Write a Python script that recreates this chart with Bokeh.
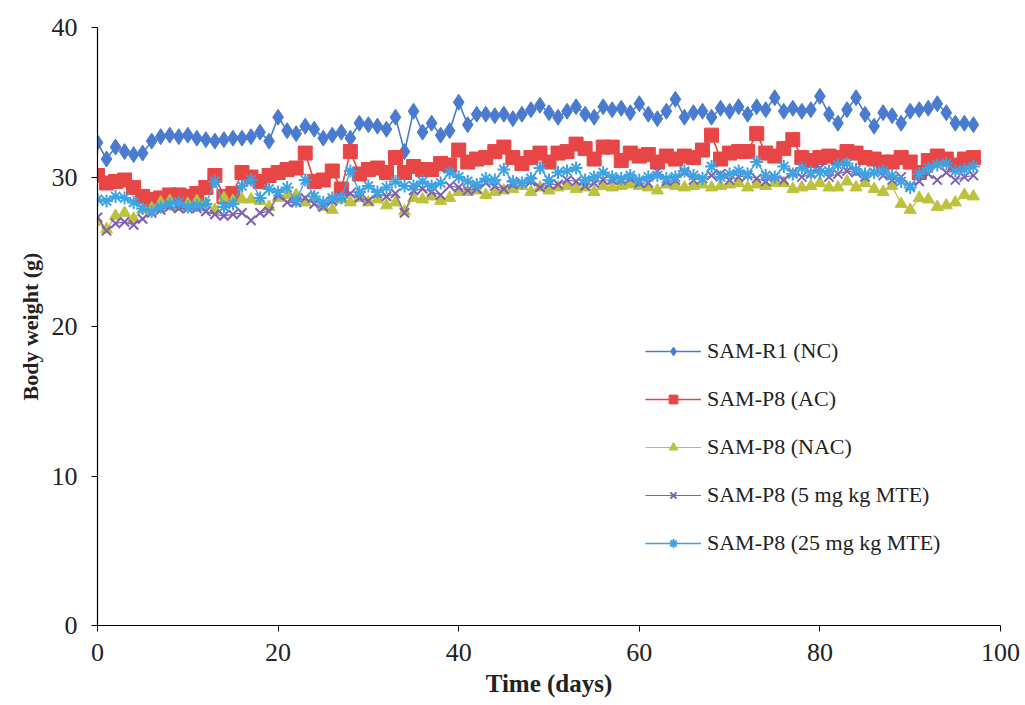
from bokeh.plotting import figure
from bokeh.models import Range1d, Legend, LegendItem, FixedTicker
from bokeh.embed import file_html
from bokeh.resources import INLINE

days = list(range(0, 98))

nc = [32.3, 31.2, 32.0, 31.7, 31.5, 31.6, 32.4, 32.7, 32.8, 32.7, 32.8, 32.6, 32.5, 32.4, 32.5, 32.6, 32.6, 32.7, 33.0, 32.4,
      34.0, 33.1, 32.9, 33.4, 33.2, 32.6, 32.8, 33.0, 32.6, 33.6, 33.5, 33.4, 33.2, 34.0, 31.7, 34.4, 33.0, 33.6, 32.8, 33.1,
      35.0, 33.5, 34.2, 34.2, 34.1, 34.2, 33.9, 34.2, 34.5, 34.8, 34.3, 34.0, 34.4, 34.7, 34.2, 34.0, 34.7, 34.5, 34.6, 34.3,
      34.9, 34.2, 33.9, 34.4, 35.2, 34.0, 34.3, 34.4, 34.0, 34.6, 34.4, 34.7, 34.2, 34.7, 34.5, 35.3, 34.4, 34.6, 34.4, 34.5,
      35.4, 34.2, 33.6, 34.5, 35.3, 34.2, 33.4, 34.3, 34.1, 33.6, 34.4, 34.5, 34.6, 34.9, 34.3, 33.6, 33.6, 33.5]

ac = [30.1, 29.6, 29.7, 29.8, 29.3, 28.7, 28.5, 28.6, 28.8, 28.8, 28.7, 28.9, 29.3, 30.1, 28.7, 28.9, 30.3, 30.0, 29.7, 30.1,
      30.3, 30.5, 30.6, 31.6, 29.7, 29.8, 30.4, 29.2, 31.7, 30.2, 30.5, 30.6, 30.3, 31.3, 30.3, 30.7, 30.5, 30.5, 30.9, 30.8,
      31.8, 31.0, 31.2, 31.3, 31.7, 32.0, 31.3, 30.9, 31.3, 31.6, 31.0, 31.6, 31.7, 32.2, 31.9, 31.2, 32.0, 32.0, 31.1, 31.6,
      31.4, 31.5, 31.0, 31.4, 31.2, 31.4, 31.3, 31.8, 32.8, 31.2, 31.6, 31.7, 31.7, 32.9, 31.6, 31.4, 31.9, 32.5, 31.3, 31.1,
      31.3, 31.4, 31.3, 31.7, 31.6, 31.3, 31.2, 31.0, 31.0, 31.3, 31.0, 30.3, 31.1, 31.4, 31.2, 30.8, 31.2, 31.3]

nac = [27.0, 26.5, 27.4, 27.6, 27.2, 27.8, 27.9, 28.3, 28.4, 28.0, 28.2, 28.4, 28.2, 27.8, 28.6, 28.4, 28.5, 28.5, 28.4, 28.0,
       28.6, 28.8, 28.8, 28.3, 28.6, 28.0, 27.8, 28.5, 28.3, 28.6, 28.3, 28.5, 28.1, 28.3, 27.7, 28.6, 28.5, 28.7, 28.4, 28.6,
       29.0, 29.0, 29.1, 28.8, 29.0, 29.1, 29.2, 29.4, 29.0, 29.3, 29.1, 29.3, 29.4, 29.2, 29.3, 29.0, 29.4, 29.3, 29.4, 29.5,
       29.4, 29.3, 29.1, 29.5, 29.4, 29.3, 29.4, 29.5, 29.3, 29.4, 29.5, 29.6, 29.3, 29.5, 29.4, 29.6, 29.6, 29.2, 29.3, 29.4,
       29.6, 29.3, 29.3, 29.7, 29.3, 29.6, 29.2, 29.0, 29.4, 28.2, 27.8, 28.6, 28.5, 28.0, 28.1, 28.3, 28.8, 28.7]

mte5 = [27.3, 26.4, 26.9, 27.0, 26.8, 27.2, 27.6, 27.8, 28.0, 27.9, 27.9, 27.9, 27.7, 27.5, 27.4, 27.5, 27.6, 27.1, 27.6, 27.7,
        28.8, 28.3, 28.3, 28.6, 28.2, 28.0, 28.4, 28.7, 28.9, 28.6, 28.4, 28.9, 28.7, 28.9, 27.6, 29.1, 29.2, 29.0, 28.8, 29.4,
        29.3, 29.1, 29.2, 29.6, 29.4, 29.2, 29.5, 29.6, 29.7, 29.3, 29.5, 29.5, 29.8, 29.7, 29.4, 29.6, 29.8, 29.8, 29.8, 29.9,
        29.6, 29.6, 30.4, 29.7, 29.8, 30.3, 29.8, 29.9, 30.1, 30.2, 29.8, 30.0, 30.1, 29.9, 29.7, 30.0, 29.8, 30.3, 30.0, 30.2,
        30.6, 30.0, 30.2, 30.4, 30.3, 30.0, 30.3, 30.1, 29.8, 30.0, 29.4, 29.7, 30.2, 29.8, 30.3, 29.8, 30.0, 30.1]

mte25 = [28.5, 28.4, 28.7, 28.6, 28.3, 27.9, 27.7, 28.0, 28.2, 28.3, 28.0, 28.1, 28.2, 29.7, 28.0, 28.2, 29.4, 29.8, 28.6, 29.2,
         29.0, 29.3, 28.4, 29.8, 28.7, 28.3, 28.6, 28.6, 30.4, 29.0, 29.4, 29.0, 29.3, 29.7, 29.4, 29.4, 29.7, 29.4, 29.6, 30.3,
         30.0, 29.7, 29.5, 29.9, 29.8, 30.5, 29.7, 29.6, 29.9, 30.6, 29.8, 30.3, 30.4, 30.6, 29.8, 30.0, 30.3, 30.0, 29.9, 30.1,
         29.8, 30.0, 30.1, 29.9, 30.0, 30.4, 30.1, 29.9, 30.7, 30.0, 30.2, 30.4, 30.2, 31.0, 30.1, 30.0, 30.7, 30.2, 30.6, 30.3,
         30.3, 30.4, 30.8, 30.9, 30.5, 30.2, 30.3, 30.4, 30.1, 29.7, 29.3, 30.2, 30.6, 30.8, 30.9, 30.4, 30.5, 30.7]

labels = ["SAM-R1 (NC)", "SAM-P8 (AC)", "SAM-P8 (NAC)", "SAM-P8 (5 mg kg MTE)", "SAM-P8 (25 mg kg MTE)"]
x_ticks = [0, 20, 40, 60, 80, 100]
y_ticks = [0, 10, 20, 30, 40]

FONT = "Liberation Serif"

p = figure(width=1025, height=705, output_backend="svg", toolbar_location=None,
           x_range=Range1d(0, 100), y_range=Range1d(0, 40),
           min_border_left=97, min_border_right=25, min_border_top=27, min_border_bottom=80)
p.outline_line_color = None
p.xgrid.visible = False
p.ygrid.visible = False
p.background_fill_color = "white"
p.border_fill_color = "white"

for ax in (p.xaxis[0], p.yaxis[0]):
    ax.axis_line_color = "black"
    ax.axis_line_width = 1.2
    ax.major_tick_line_color = "black"
    ax.major_tick_out = 6
    ax.major_tick_in = 0
    ax.minor_tick_line_color = None
    ax.major_label_text_font = FONT
    ax.major_label_text_font_size = "26px"
    ax.major_label_text_color = "#222222"
    ax.axis_label_text_font = FONT
    ax.axis_label_text_font_style = "bold"
    ax.axis_label_text_color = "#222222"

p.xaxis.axis_label_text_font_size = "25px"
p.yaxis.axis_label_text_font_size = "22px"
p.xaxis.ticker = FixedTicker(ticks=x_ticks)
p.yaxis.ticker = FixedTicker(ticks=y_ticks)
p.xaxis.axis_label = "Time (days)"
p.yaxis.axis_label = "Body weight (g)"
p.xaxis.major_label_standoff = 12
p.yaxis.major_label_standoff = 14
p.xaxis.axis_label_standoff = 6
p.yaxis.axis_label_standoff = 6

series = [nc, ac, nac, mte5, mte25]
colors = ["#4A7BD0", "#E84646", "#BCC23C", "#7F5FB0", "#3DA3E2"]
markers = ["diamond", "square", "triangle", "x", "asterisk"]
sizes = [16, 14, 12, 13, 13]
lw = [1.6, 1.6, 1.2, 1.2, 1.4]

items = []
for s, c, m, sz, w, lab in zip(series, colors, markers, sizes, lw, labels):
    r1 = p.line(days, s, line_color=c, line_width=w)
    if m in ("x", "asterisk"):
        r2 = p.scatter(days, s, marker=m, size=sz, line_color=c, line_width=2)
    else:
        r2 = p.scatter(days, s, marker=m, size=sz, fill_color=c, line_color=c)
    items.append(LegendItem(label=lab, renderers=[r1, r2]))

legend = Legend(items=items, location=(548, 69), border_line_color=None,
                background_fill_alpha=0, label_text_font=FONT, label_text_font_size="22px",
                label_text_color="#222222", glyph_width=56, glyph_height=22, label_height=22,
                spacing=22, padding=0, margin=0, label_standoff=6)
p.add_layout(legend)

open("out.html", "w").write(file_html(p, INLINE))
